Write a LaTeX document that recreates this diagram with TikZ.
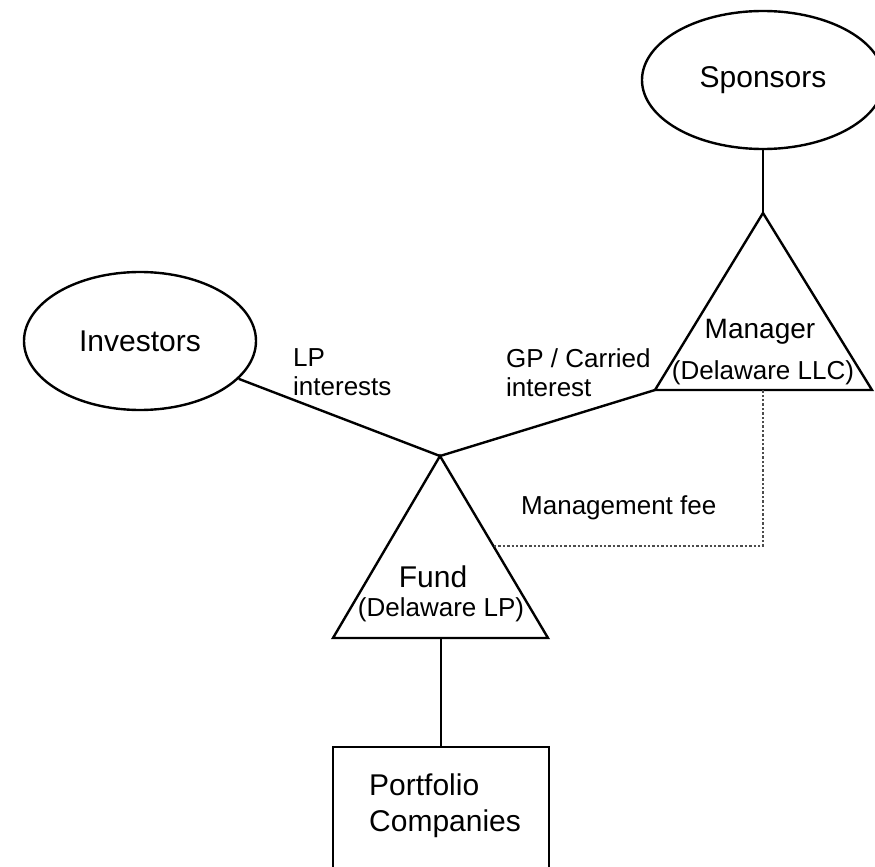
\documentclass[tikz,border=0pt]{standalone}
\usepackage{fontspec}
\setmainfont{Liberation Sans}
\usetikzlibrary{shapes.geometric}

\begin{document}
\begin{tikzpicture}[x=0.5pt,y=-0.5pt,line width=1.2pt,
    party/.style={draw,ellipse,minimum height=69pt,inner sep=0pt,font=\fontsize{15}{18}\selectfont},
    entity/.style={draw,line join=miter},
    bigtext/.style={font=\fontsize{15}{18}\selectfont,inner sep=0pt,align=left},
    smalltext/.style={font=\fontsize{13}{14.5}\selectfont,inner sep=0pt,align=left},
    feeline/.style={densely dotted,line width=1.2pt,black!70}]

    \useasboundingbox (0,0) rectangle (875,867);

    % owners
    \node[party,minimum width=121pt] (sponsors)  at (763,80)  {Sponsors};
    \node[party,minimum width=116pt] (investors) at (140,341) {Investors};

    % manager
    \coordinate (manager top)   at (763,213);
    \coordinate (manager left)  at (655,390);
    \coordinate (manager right) at (872,390);
    \coordinate (manager base)  at (763,390);
    \draw[entity] (manager top) -- (manager left) -- (manager right) -- cycle;
    \node[bigtext,font=\fontsize{14}{17}\selectfont] (manager name) at (760,332) {Manager};
    \node[smalltext] (manager form) at (763,373) {(Delaware LLC)};

    % fund
    \coordinate (fund top)   at (440,456);
    \coordinate (fund left)  at (333,638);
    \coordinate (fund right) at (548,638);
    \coordinate (fund base)  at (441,638);
    \coordinate (fee start)  at (494,546);
    \draw[entity] (fund top) -- (fund left) -- (fund right) -- cycle;
    \node[bigtext] (fund name) at (433,577) {Fund};
    \node[smalltext] (fund form) at (441,610) {(Delaware LP)};

    % portfolio
    \node[draw,minimum width=108pt,minimum height=70pt,anchor=north] (portfolio) at (441,746) {};
    \node[bigtext,anchor=west] (portfolio name) at (368,806) {Portfolio\\Companies};

    % connectors
    \draw (sponsors) -- (manager top);
    \draw (investors) -- (fund top);
    \draw (fund top) -- (manager left);
    \draw (fund base) -- (portfolio.north);
    \draw[feeline] (fee start) -- (manager base |- fee start) -- (manager base);

    % labels
    \node[smalltext,anchor=west] (lp label) at (292,372) {LP\\interests};
    \node[smalltext,anchor=west] (gp label) at (505,373) {GP / Carried\\interest};
    \node[smalltext,anchor=west] (fee label) at (520,508) {Management fee};

\end{tikzpicture}
\end{document}
